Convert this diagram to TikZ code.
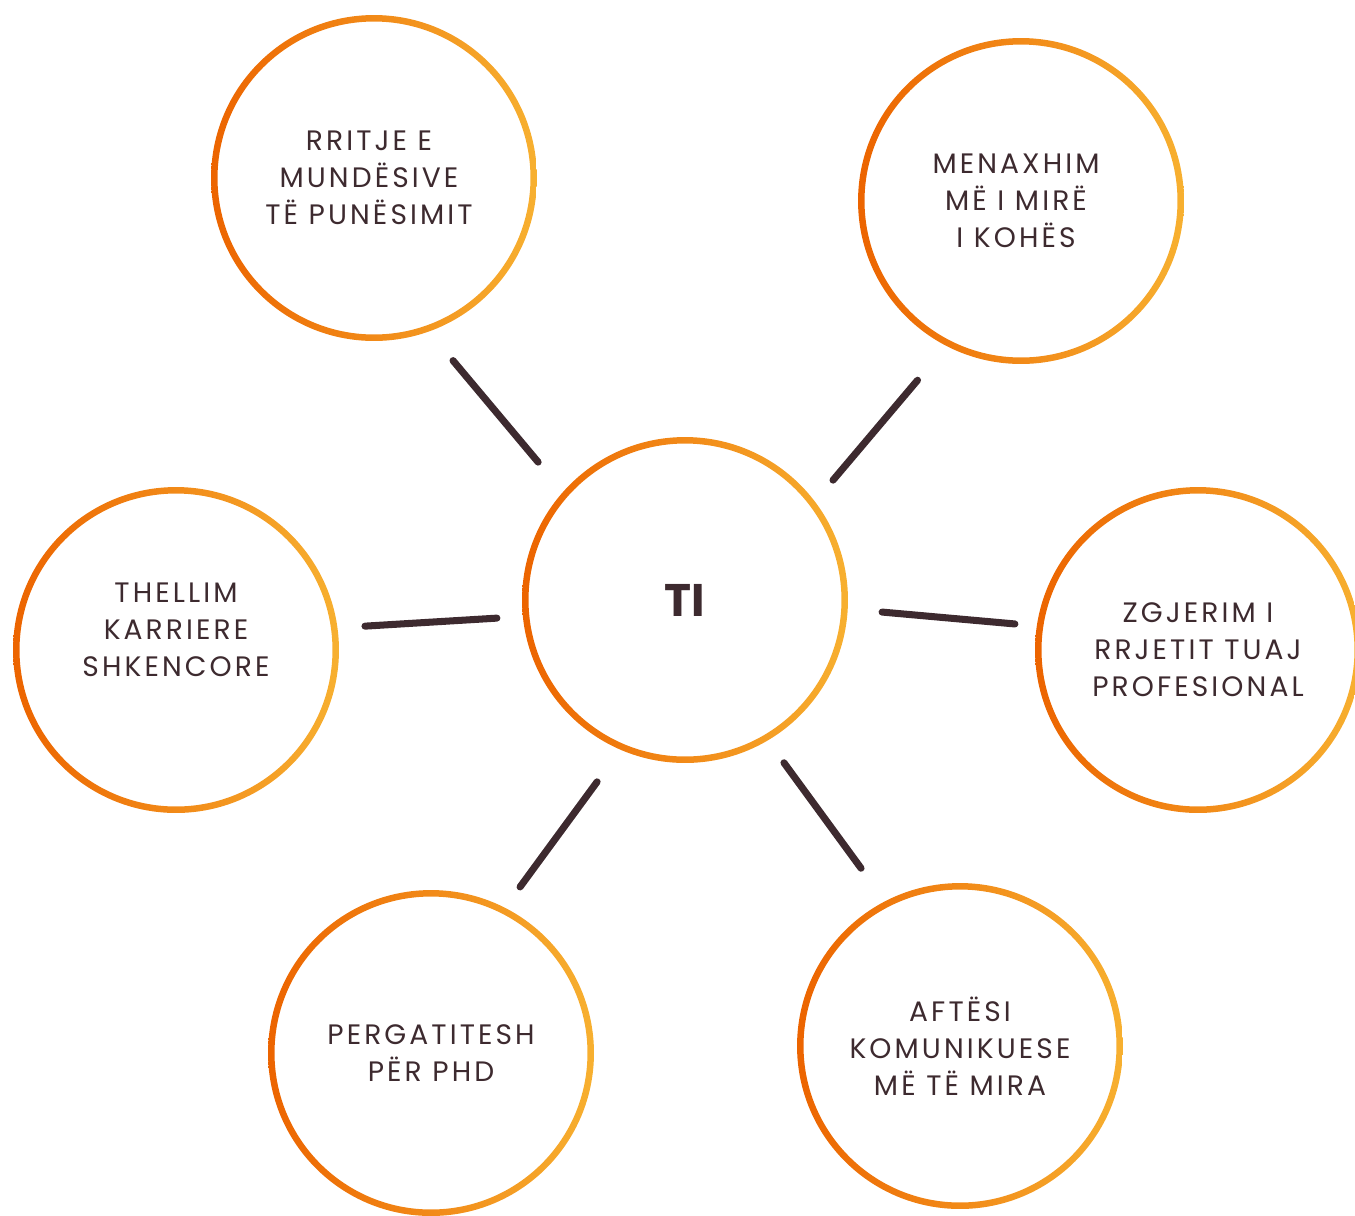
\documentclass[tikz,border=0pt]{standalone}
\usepackage{fontspec}
\setmainfont{Poppins}
\definecolor{ink}{RGB}{61,42,47}
\definecolor{ringL}{RGB}{236,100,0}
\definecolor{ringR}{RGB}{247,176,48}
\tikzset{
  ring/.style={circle,minimum size=6.52cm,inner sep=0pt,outer sep=0pt,
    path picture={\shade[even odd rule,left color=ringL,right color=ringR]
      (path picture bounding box.center) circle (3.26cm) circle (3.13cm);}},
  lbl/.style={align=center,text=ink,
    font=\fontsize{16}{21}\selectfont\addfontfeatures{LetterSpace=11}},
  link/.style={ink,line width=4pt,line cap=round}
}
\begin{document}
\begin{tikzpicture}[x=0.02cm,y=-0.02cm]
\useasboundingbox (0,0) rectangle (1355,1215);
% the rings
\node[ring] (ti)      at (685,600)  {};
\node[ring] (rritje)  at (374,178)  {};
\node[ring] (menax)   at (1021,201) {};
\node[ring] (thellim) at (176,650)  {};
\node[ring] (zgjerim) at (1198,650) {};
\node[ring] (pergat)  at (431,1053) {};
\node[ring] (aftesi)  at (960,1046) {};
% the texts
\node[text=ink,font=\fontsize{26}{30}\selectfont\bfseries] (ti-t) at (ti) {TI};
\node[lbl] (rritje-t)  at ([xshift=-0.1cm]rritje)  {RRITJE E\\MUNDËSIVE\\TË PUNËSIMIT};
\node[lbl] (menax-t)   at ([xshift=-0.1cm]menax)   {MENAXHIM\\MË I MIRË\\I KOHËS};
\node[lbl] (thellim-t) at ([yshift=0.4cm]thellim)  {THELLIM\\KARRIERE\\SHKENCORE};
\node[lbl] (zgjerim-t) at (zgjerim) {ZGJERIM I\\RRJETIT TUAJ\\PROFESIONAL};
\node[lbl] (pergat-t)  at (pergat)  {PERGATITESH\\PËR PHD};
\node[lbl] (aftesi-t)  at (aftesi)  {AFTËSI\\KOMUNIKUESE\\MË TË MIRA};
% the spokes, a little off the centre lines
\draw[link] ([shift={(-66.6:3.98cm)}]rritje.center)  -- ([shift={(136.8:4.03cm)}]ti.center);
\draw[link] ([shift={(-120:4.14cm)}]menax.center)    -- ([shift={(39:3.81cm)}]ti.center);
\draw[link] ([shift={(7.2:3.81cm)}]thellim.center)   -- ([shift={(185.5:3.78cm)}]ti.center);
\draw[link] ([shift={(171.9:3.70cm)}]zgjerim.center) -- ([shift={(-3.5:3.95cm)}]ti.center);
\draw[link] ([shift={(61.8:3.77cm)}]pergat.center)   -- ([shift={(-115.8:4.04cm)}]ti.center);
\draw[link] ([shift={(119.1:4.07cm)}]aftesi.center)  -- ([shift={(-58.7:3.81cm)}]ti.center);
\end{tikzpicture}
\end{document}
